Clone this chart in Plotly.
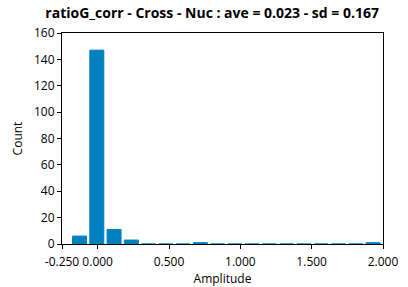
import plotly.graph_objects as go

bin_centers = [-0.127, -0.006, 0.115, 0.236, 0.357, 0.478, 0.599, 0.720, 0.841,
               0.962, 1.083, 1.204, 1.325, 1.446, 1.567, 1.688, 1.809, 1.930]
counts = [6, 147, 11, 3, 0, 0, 0, 1, 0, 0, 0, 0, 0, 0, 0, 0, 0, 1]
x_ticks = [-0.25, 0.0, 0.5, 1.0, 1.5, 2.0]
x_tick_labels = ["-0.250", "0.000", "0.500", "1.000", "1.500", "2.000"]
y_ticks = [0, 20, 40, 60, 80, 100, 120, 140, 160]

fig = go.Figure(go.Bar(
    x=bin_centers, y=counts, width=0.098,
    marker=dict(color="#0080C0", line=dict(color="#0080C0", width=1)),
))

font = "Segoe UI, Open Sans, DejaVu Sans, sans-serif"
fig.update_layout(
    width=408, height=287,
    margin=dict(l=62, r=25, t=33, b=43),
    paper_bgcolor="white", plot_bgcolor="white",
    showlegend=False,
    title=dict(text="<b>ratioG_corr - Cross - Nuc : ave = 0.023 - sd = 0.167</b>",
               x=0.52, xanchor="center", y=0.955, yanchor="middle",
               font=dict(family=font, size=14, color="black")),
    font=dict(family=font, size=12, color="black"),
)
fig.update_xaxes(
    range=[-0.25, 2.0], tickvals=x_ticks, ticktext=x_tick_labels,
    showline=True, linecolor="black", linewidth=1, mirror=True,
    ticks="outside", ticklen=4, tickcolor="black", showgrid=False, zeroline=False,
    automargin=False, ticklabelstandoff=3,
    title=dict(text="Amplitude", standoff=2, font=dict(size=12)),
)
fig.update_yaxes(
    range=[0, 160], tickvals=y_ticks,
    showline=True, linecolor="black", linewidth=1, mirror=True,
    ticks="outside", ticklen=4, tickcolor="black", showgrid=False, zeroline=False,
    automargin=False,
    title=dict(text="Count", standoff=8, font=dict(size=12)),
)
fig.write_html("out.html")
